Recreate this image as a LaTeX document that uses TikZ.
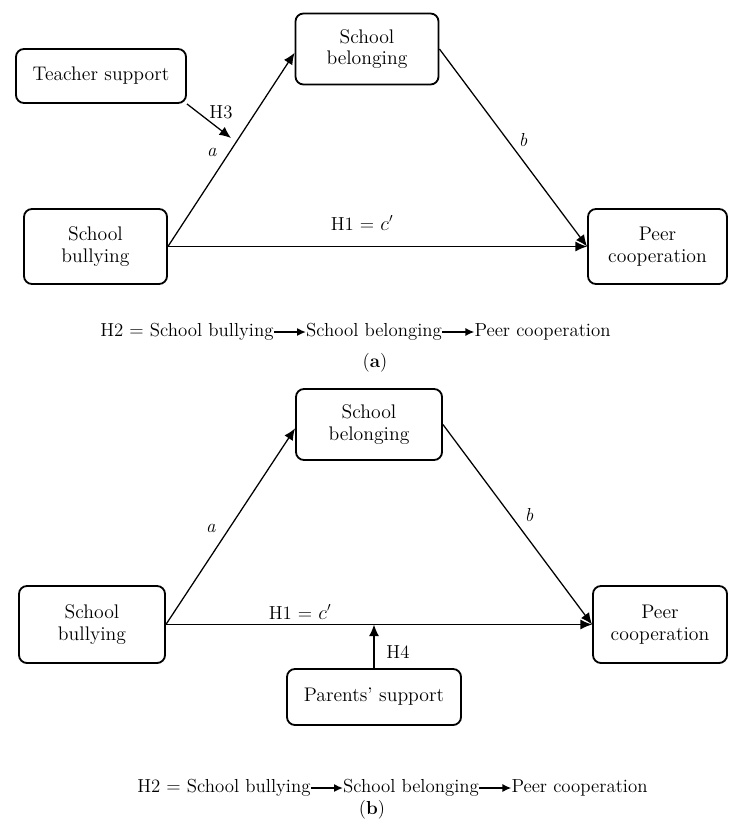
\documentclass[tikz,border=0pt]{standalone}
\usetikzlibrary{positioning,arrows.meta}

\begin{document}
\begin{tikzpicture}[x=0.025cm, y=-0.025cm, font=\fontsize{13.4}{15}\selectfont,
    box/.style={draw, line width=1.3pt, rounded corners=0.2cm, align=center, inner sep=2pt,
        font=\fontsize{14}{15.5}\selectfont},
    link/.style={line width=0.9pt, -{Latex[length=2.9mm, width=2.5mm]}},
    h2link/.style={line width=0.9pt, -{Latex[length=2.2mm, width=2mm]}},
    h2text/.style={inner sep=0pt}]
    \useasboundingbox (0,0) rectangle (729,821);

    % Panel (a): boxes
    \node[box, minimum width=4.25cm, minimum height=1.35cm] (teach) at (101,76) {Teacher support};
    \node[box, minimum width=3.575cm, minimum height=1.775cm] (belongA) at (367,49) {School\\belonging};
    \node[box, minimum width=3.575cm, minimum height=1.875cm] (bullyA) at (95.5,246.5) {School\\bullying};
    \node[box, minimum width=3.475cm, minimum height=1.875cm] (peerA) at (657.5,246.5) {Peer\\cooperation};

    % Panel (a): paths
    \coordinate (h3tip) at (231,138);
    \draw[link] (bullyA.east) -- (belongA.183);
    \draw[link] (belongA.east) -- (peerA.west);
    \draw[link] (bullyA.east) -- (peerA.west);
    \draw[link] (teach.south east) -- (h3tip);
    \node (h3lbl) at (221,112) {H3};
    \node (albA) at (212,152) {\textit{a}};
    \node (blbA) at (523,140) {\textit{b}};
    \node (h1lbA) at (362,223) {H1 = $c'$};

    % Panel (b): boxes
    \node[box, minimum width=3.65cm, minimum height=1.775cm] (belongB) at (369,424.5) {School\\belonging};
    \node[box, minimum width=3.65cm, minimum height=1.925cm] (bullyB) at (92,624.5) {School\\bullying};
    \node[box, minimum width=3.35cm, minimum height=1.925cm] (peerB) at (660,624.5) {Peer\\cooperation};
    \node[box, minimum width=4.35cm, minimum height=1.4cm] (parents) at (374,697) {Parents' support};

    % Panel (b): paths
    \coordinate (h4tip) at (374,624.5);
    \draw[link] (bullyB.east) -- (belongB.183);
    \draw[link] (belongB.east) -- (peerB.west);
    \draw[link] (bullyB.east) -- (peerB.west);
    \draw[link] (parents.north) -- (h4tip);
    \node (h4lbl) at (398,652) {H4};
    \node (albB) at (211,528) {\textit{a}};
    \node (blbB) at (529,515) {\textit{b}};
    \node (h1lbB) at (300,612) {H1 = $c'$};

    % Mediation path lines and captions
    \foreach \x/\y/\cap in {100/332/a, 137/788/b} {
        \node[h2text, anchor=west] (h2bully\cap) at (\x,\y) {H2 = School bullying};
        \node[h2text, right=0.8cm of h2bully\cap] (h2belong\cap) {School belonging};
        \node[h2text, right=0.8cm of h2belong\cap] (h2peer\cap) {Peer cooperation};
        \draw[h2link] (h2bully\cap.east) -- (h2belong\cap.west);
        \draw[h2link] (h2belong\cap.east) -- (h2peer\cap.west);
    }
    \node (capA) at (375,363) {(\textbf{a})};
    \node (capB) at (372,810) {(\textbf{b})};
\end{tikzpicture}
\end{document}
